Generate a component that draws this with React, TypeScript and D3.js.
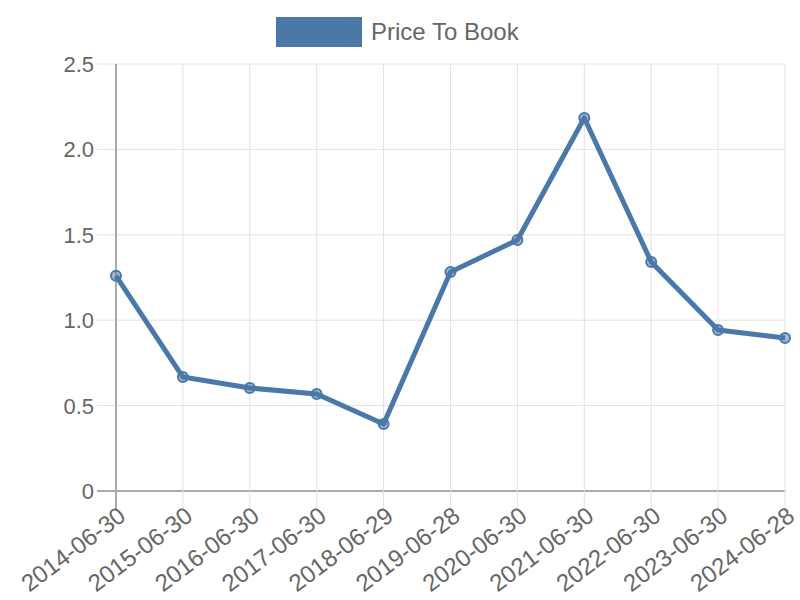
import React from 'react';
import * as d3 from 'd3';

const dates = [
  '2014-06-30', '2015-06-30', '2016-06-30', '2017-06-30', '2018-06-29', '2019-06-28',
  '2020-06-30', '2021-06-30', '2022-06-30', '2023-06-30', '2024-06-28'
];
const priceToBook = [1.26, 0.667, 0.603, 0.568, 0.392, 1.282, 1.47, 2.184, 1.341, 0.943, 0.896];
const yTicks = [0, 0.5, 1, 1.5, 2, 2.5];

const W = 800;
const H = 600;
const left = 116;
const right = 785;
const top = 64;
const bottom = 491;
const color = '#4a78a8';
const font = '"Liberation Sans", Arial, sans-serif';

export default function App() {
  const x = d3.scalePoint<string>().domain(dates).range([left, right]);
  const y = d3.scaleLinear().domain([0, 2.5]).range([bottom, top]);

  const line = d3.line<number>()
    .x((_, i) => x(dates[i]) as number)
    .y(d => y(d));

  return (
    <div style={{ position: 'absolute', left: 0, top: 0 }}>
      <svg width={W} height={H} style={{ display: 'block' }} fontFamily={font}>
        {/* legend */}
        <rect x={276} y={17} width={86} height={30} fill={color} />
        <text x={371} y={40} fontSize={24} fill="#666">Price To Book</text>

        {/* horizontal grid */}
        {yTicks.map(t => (
          <g key={t}>
            <line x1={97} x2={right} y1={y(t)} y2={y(t)} stroke={t === 0 ? '#aaa' : '#e2e2e2'} strokeWidth={t === 0 ? 2 : 1} />
            <text x={94} y={y(t)} dy="0.36em" textAnchor="end" fontSize={22} fill="#666">
              {t === 0 ? '0' : d3.format('.1f')(t)}
            </text>
          </g>
        ))}

        {/* vertical grid */}
        {dates.map((d, i) => (
          <g key={d}>
            <line x1={x(d)} x2={x(d)} y1={top} y2={511} stroke={i === 0 ? '#aaa' : '#e2e2e2'} strokeWidth={i === 0 ? 2 : 1} />
            <text
              transform={`translate(${(x(d) as number) + 6},${512}) rotate(-37)`}
              textAnchor="end"
              dy="0.36em"
              fontSize={24}
              fill="#666"
            >
              {d}
            </text>
          </g>
        ))}

        {/* series */}
        <path d={line(priceToBook) ?? ''} fill="none" stroke={color} strokeWidth={5} strokeLinejoin="round" />
        {priceToBook.map((v, i) => (
          <circle
            key={dates[i]}
            cx={x(dates[i])}
            cy={y(v)}
            r={5}
            fill="rgba(74,120,168,0.5)"
            stroke={color}
            strokeWidth={2}
          />
        ))}
      </svg>
    </div>
  );
}
